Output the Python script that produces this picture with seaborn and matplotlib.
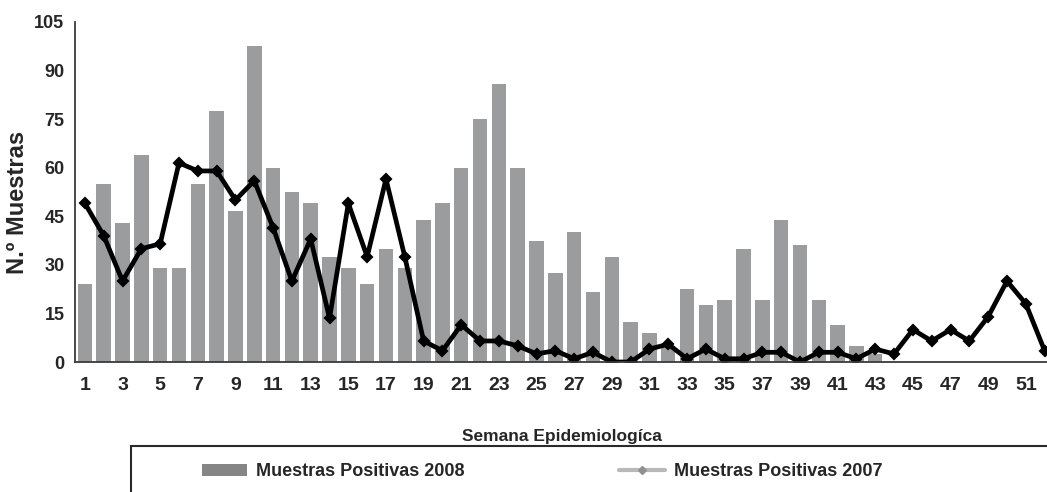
import matplotlib
matplotlib.use("Agg")
import matplotlib.pyplot as plt
from matplotlib.patches import Rectangle, Patch
from matplotlib.lines import Line2D
import numpy as np
import pandas as pd
import seaborn as sns

# ------------------------------------------------------------
# DATEN
# ------------------------------------------------------------
semanas = list(range(1, 53))

positivas_2008 = [
    24, 55, 43, 64, 29, 29, 55, 77.5, 46.5, 97.5,
    60, 52.5, 49, 32.5, 29, 24, 35, 29, 44, 49,
    60, 75, 86, 60, 37.5, 27.5, 40, 21.5, 32.5, 12.5,
    9, 5, 22.5, 17.5, 19, 35, 19, 44, 36, 19,
    11.5, 5, 2.5, 0, 0, 0, 0, 0, 0, 0,
    0, 0,
]

positivas_2007 = [
    49, 39, 25, 35, 36.5, 61.5, 59, 59, 50, 56,
    41.5, 25, 38, 13.5, 49, 32.5, 56.5, 32.5, 6.5, 3.5,
    11.5, 6.5, 6.5, 5, 2.5, 3.5, 1, 3, 0, 0,
    4, 5.5, 1, 4, 1, 1, 3, 3, 0, 3,
    3, 1, 4, 2.5, 10, 6.5, 10, 6.5, 14, 25,
    18, 3.5,
]

y_ticks = list(range(0, 106, 15))
x_labels = [str(s) if s % 2 == 1 else "" for s in semanas]

df = pd.DataFrame({
    "semana": [str(s) for s in semanas],
    "p2008": positivas_2008,
    "p2007": positivas_2007,
})

# ------------------------------------------------------------
# STIL
# ------------------------------------------------------------
sns.set_style("white")
plt.rcParams["font.family"] = ["Liberation Sans", "DejaVu Sans"]
plt.rcParams["font.weight"] = "bold"

BAR_GRAU = "#9b9c9e"
LEG_GRAU = "#858585"
LINIE_LEG = "#b8b8b8"
ACHSE = "#3a3a3a"

fig = plt.figure(figsize=(10.47, 4.92), dpi=100)
ax = fig.add_axes([0.0721, 0.2642, 0.9346, 0.6911])

sns.barplot(data=df, x="semana", y="p2008", color=BAR_GRAU, width=0.77,
            saturation=1, edgecolor="none", ax=ax)
sns.pointplot(data=df, x="semana", y="p2007", color="black", markers="D",
              markersize=4, linewidth=3.4, ax=ax)

ax.set_xlim(-0.5, len(semanas) - 0.5)
ax.set_ylim(0, 105)
ax.set_yticks(y_ticks)
ax.set_yticklabels([str(t) for t in y_ticks], fontsize=13, fontweight="bold")

ax.set_xticks(range(len(semanas)))
ax.set_xticklabels(x_labels, fontsize=14, fontweight="bold")
ax.set_xticks(np.arange(-0.5, len(semanas), 1), minor=True)
ax.tick_params(axis="x", which="major", length=0, pad=11)
ax.tick_params(axis="x", which="minor", length=4, width=1, color=ACHSE,
               direction="out")
ax.tick_params(axis="y", which="major", length=4, width=1, color=ACHSE,
               direction="out", pad=4)

for s in ["top", "right"]:
    ax.spines[s].set_visible(False)
for s in ["left", "bottom"]:
    ax.spines[s].set_color(ACHSE)
    ax.spines[s].set_linewidth(1.3)

ax.set_ylabel("N.º Muestras", fontsize=17, fontweight="bold")
ax.yaxis.set_label_coords(-0.047, 0.47)
ax.set_xlabel("Semana Epidemiologíca", fontsize=12.5, fontweight="bold")
ax.xaxis.set_label_coords(0.497, -0.198)

# Legendenrahmen (reicht ueber den Bildrand hinaus)
fig.add_artist(Rectangle((131 / 1047, -0.5), 1.0, 0.5 + 1 - 446 / 492,
                         transform=fig.transFigure, fill=False,
                         edgecolor="#2a2a2a", linewidth=1.5, clip_on=False))

handles = [
    Patch(facecolor=LEG_GRAU, edgecolor="none", label="Muestras Positivas 2008"),
    Line2D([], [], color=LINIE_LEG, linewidth=3, marker="D", markersize=4,
           markerfacecolor="#909090", markeredgecolor="#909090",
           label="Muestras Positivas 2007"),
]
fig.legend(handles=handles, loc="center", bbox_to_anchor=(0.5175, 0.041),
           ncol=2, frameon=False, handlelength=2.5, handleheight=0.6,
           handletextpad=0.5, columnspacing=8.6,
           prop={"size": 13, "weight": "bold"})

fig.savefig("out.png", dpi=100)
